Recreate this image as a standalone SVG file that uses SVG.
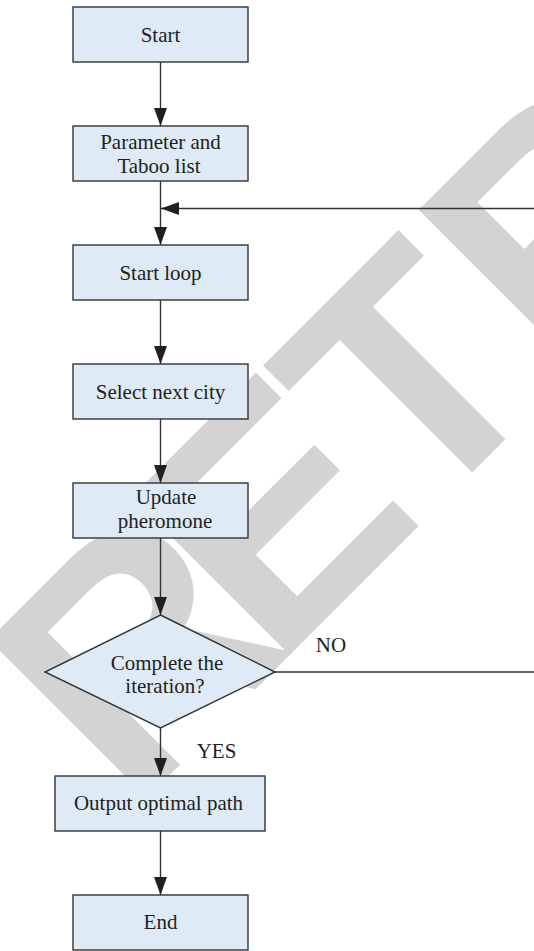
<svg xmlns="http://www.w3.org/2000/svg" width="534" height="951" viewBox="0 0 534 951">
<defs>
<style>
.box{fill:#deeaf5;stroke:#333;stroke-width:1.4}
.lbl{font-family:"Liberation Serif","Times New Roman",serif;font-size:21px;fill:#231f20;text-anchor:middle}
.edge{fill:none;stroke:#333;stroke-width:1.4}
.wm{font-family:"Liberation Sans",Arial,sans-serif;font-weight:bold;font-size:325px;fill:#d3d3d3}
</style>
<marker id="ah" markerWidth="18" markerHeight="13" refX="18" refY="6.5" orient="auto" markerUnits="userSpaceOnUse">
<path d="M0,0 L18,6.5 L0,13 Z" fill="#231f20"/>
</marker>
</defs>
<rect width="534" height="951" fill="#fff"/>
<g id="watermark">
<text class="wm" transform="rotate(-45)" x="-482 -280 -76 126" y="668">RETRACTED</text>
</g>
<g id="connectors">
<line class="edge" x1="160.5" y1="62" x2="160.5" y2="126" marker-end="url(#ah)"/>
<line class="edge" x1="160.5" y1="181" x2="160.5" y2="245" marker-end="url(#ah)"/>
<line class="edge" x1="160.5" y1="300" x2="160.5" y2="364" marker-end="url(#ah)"/>
<line class="edge" x1="160.5" y1="419" x2="160.5" y2="483" marker-end="url(#ah)"/>
<line class="edge" x1="160.5" y1="538" x2="160.5" y2="615" marker-end="url(#ah)"/>
<line class="edge" x1="160.5" y1="728" x2="160.5" y2="776" marker-end="url(#ah)"/>
<line class="edge" x1="160.5" y1="831" x2="160.5" y2="895" marker-end="url(#ah)"/>
<polyline class="edge" points="275,672 540,672"/>
<line class="edge" x1="540" y1="208.5" x2="161" y2="208.5" marker-end="url(#ah)"/>
<text class="lbl" x="331" y="652">NO</text>
<text class="lbl" x="216.5" y="758">YES</text>
</g>
<g id="n-start">
<rect class="box" x="73" y="7" width="175" height="55"/>
<text class="lbl" x="160.5" y="42">Start</text>
</g>
<g id="n-param">
<rect class="box" x="73" y="126" width="175" height="55"/>
<text class="lbl" x="160.5" y="149">Parameter and</text>
<text class="lbl" x="159" y="173">Taboo list</text>
</g>
<g id="n-loop">
<rect class="box" x="73" y="245" width="175" height="55"/>
<text class="lbl" x="160.5" y="280">Start loop</text>
</g>
<g id="n-select">
<rect class="box" x="73" y="364" width="175" height="55"/>
<text class="lbl" x="160.5" y="399">Select next city</text>
</g>
<g id="n-update">
<rect class="box" x="73" y="483" width="175" height="55"/>
<text class="lbl" x="166" y="504">Update</text>
<text class="lbl" x="165" y="528">pheromone</text>
</g>
<g id="n-decision">
<polygon class="box" points="160.5,615 275,672 160.5,728 45,672"/>
<text class="lbl" x="167" y="670">Complete the</text>
<text class="lbl" x="165" y="693">iteration?</text>
</g>
<g id="n-output">
<rect class="box" x="55" y="776" width="210" height="55"/>
<text class="lbl" x="158.5" y="810">Output optimal path</text>
</g>
<g id="n-end">
<rect class="box" x="73" y="895" width="175" height="55"/>
<text class="lbl" x="160.5" y="929">End</text>
</g>
</svg>
